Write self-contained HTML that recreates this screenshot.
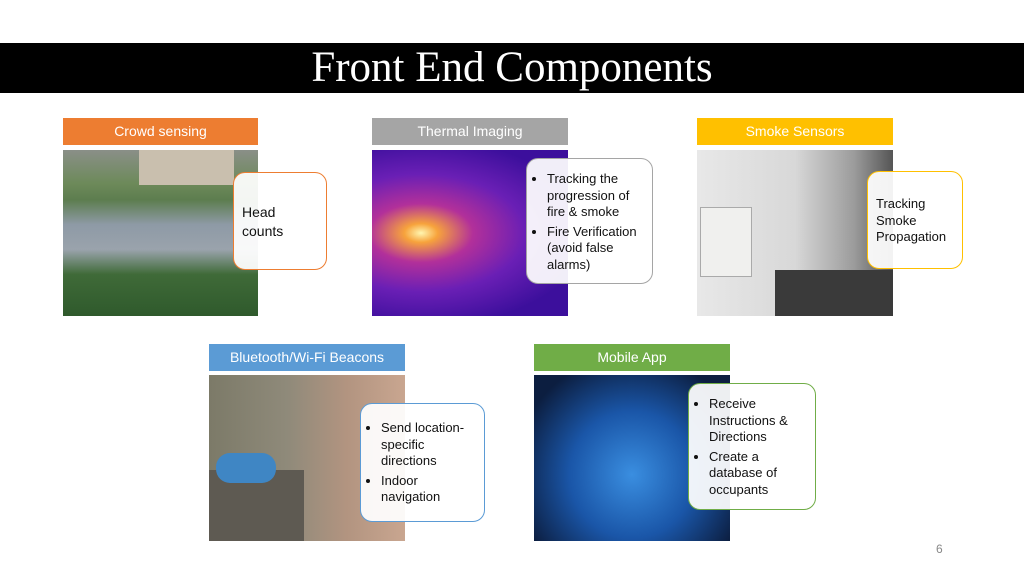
<!DOCTYPE html>
<html><head><style>
body{margin:0;width:1024px;height:576px;background:#fff;position:relative;overflow:hidden;font-family:"Liberation Sans",sans-serif}
.a{position:absolute}
.h{position:absolute;height:27px;color:#fff;font-size:14px;text-align:center;line-height:27px}
.c{position:absolute;background:rgba(255,255,255,0.93);border:1.5px solid;border-radius:12px;box-sizing:border-box;font-size:13px;line-height:16.5px;color:#111}
.c ul{margin:0;padding:0 0 0 12px}
.c li{margin-bottom:3px}
</style></head><body>
<div class="a" style="left:0;top:43px;width:1024px;height:50px;background:#000;color:#fff;font-family:'Liberation Serif',serif;font-size:43px;text-align:center;line-height:50px">Front End Components</div>

<div class="h" style="left:63px;top:118px;width:195px;background:#ed7d31">Crowd sensing</div>
<div class="a" style="left:63px;top:150px;width:195px;height:166px;background:linear-gradient(180deg,#8a8f88 0%,#6d8a5a 20%,#5d7d4f 30%,#8e9aa6 45%,#9aa3ac 60%,#3f6a38 75%,#2f5a2c 100%)"></div>
<div class="a" style="left:139px;top:150px;width:95px;height:35px;background:#c9bfae"></div>
<div class="c" style="left:233px;top:172px;width:94px;height:98px;border-color:#ed7d31;font-size:14px;line-height:19px;padding:30px 0 0 8px">Head<br>counts</div>

<div class="h" style="left:372px;top:118px;width:196px;background:#a5a5a5">Thermal Imaging</div>
<div class="a" style="left:372px;top:150px;width:196px;height:166px;background:radial-gradient(ellipse at 25% 50%,#fff6b0 0%,#f7a33c 8%,#b2309a 25%,#6a1fb5 50%,#3c0f9c 80%)"></div>
<div class="c" style="left:526px;top:158px;width:127px;height:126px;border-color:#a5a5a5;padding:12px 6px 0 8px"><ul><li>Tracking the progression of fire &amp; smoke</li><li>Fire Verification (avoid false alarms)</li></ul></div>

<div class="h" style="left:697px;top:118px;width:196px;background:#ffc000">Smoke Sensors</div>
<div class="a" style="left:697px;top:150px;width:196px;height:166px;background:linear-gradient(90deg,#e8e8e8 0%,#d8d8d8 50%,#9c9c9c 80%,#555 100%)"></div>
<div class="a" style="left:700px;top:207px;width:50px;height:68px;background:#f0f0ee;border:1px solid #aaa"></div>
<div class="a" style="left:775px;top:270px;width:118px;height:46px;background:#3a3a3a"></div>
<div class="c" style="left:867px;top:171px;width:96px;height:98px;border-color:#ffc000;padding:24px 0 0 8px">Tracking<br>Smoke<br>Propagation</div>

<div class="h" style="left:209px;top:344px;width:196px;background:#5b9bd5">Bluetooth/Wi-Fi Beacons</div>
<div class="a" style="left:209px;top:375px;width:196px;height:166px;background:linear-gradient(90deg,#7c7a68 0%,#8f8a7a 40%,#b29480 70%,#c9a690 100%)"></div>
<div class="a" style="left:209px;top:470px;width:95px;height:71px;background:#5e5a52"></div>
<div class="a" style="left:216px;top:453px;width:60px;height:30px;background:#3f86c4;border-radius:14px"></div>
<div class="c" style="left:360px;top:403px;width:125px;height:119px;border-color:#5b9bd5;padding:16px 6px 0 8px"><ul><li>Send location-specific directions</li><li>Indoor navigation</li></ul></div>

<div class="h" style="left:534px;top:344px;width:196px;background:#70ad47">Mobile App</div>
<div class="a" style="left:534px;top:375px;width:196px;height:166px;background:radial-gradient(ellipse at 50% 60%,#3a8ee0 0%,#1a56a8 45%,#0c1e40 85%)"></div>
<div class="c" style="left:688px;top:383px;width:128px;height:127px;border-color:#70ad47;padding:12px 6px 0 8px"><ul><li>Receive Instructions &amp; Directions</li><li>Create a database of occupants</li></ul></div>

<div class="a" style="left:936px;top:542px;font-size:12px;color:#888">6</div>
</body></html>
